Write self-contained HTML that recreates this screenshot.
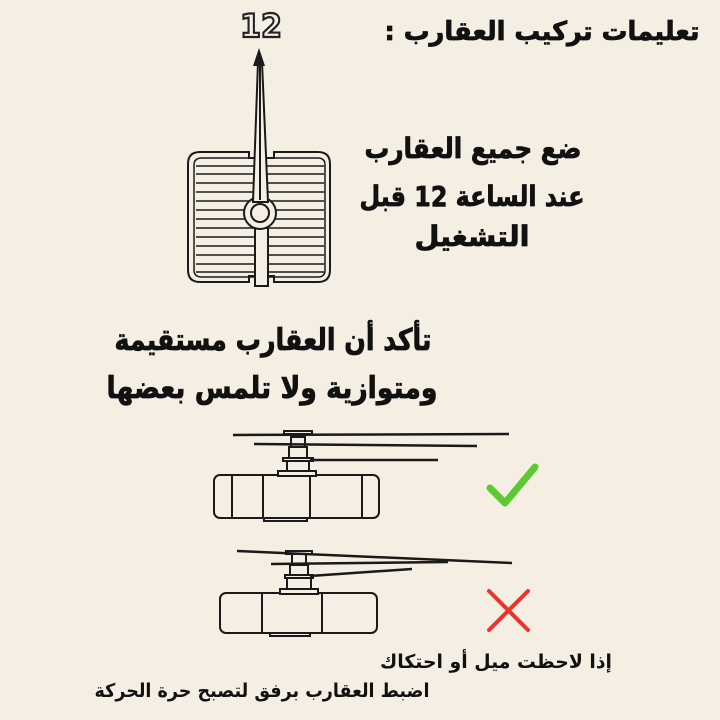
<!DOCTYPE html>
<html><head><meta charset="utf-8"><style>
html,body{margin:0;padding:0;background:#f5efe3;}
svg{display:block}
text{font-family:"DejaVu Sans",sans-serif;font-weight:bold;fill:#111;}
.h{stroke:#111;stroke-width:0.8;}
</style></head><body>
<svg width="720" height="720" viewBox="0 0 720 720" xmlns="http://www.w3.org/2000/svg">
<rect width="720" height="720" fill="#f5efe3"/>
<!-- titles -->
<text class="h" x="542" y="40" font-size="26" text-anchor="middle" textLength="315" lengthAdjust="spacingAndGlyphs" direction="rtl">تعليمات تركيب العقارب :</text>
<text class="h" x="473" y="158" font-size="28" text-anchor="middle" textLength="217" lengthAdjust="spacingAndGlyphs" direction="rtl">ضع جميع العقارب</text>
<text class="h" x="472" y="206" font-size="28" text-anchor="middle" textLength="225" lengthAdjust="spacingAndGlyphs" direction="rtl">عند الساعة 12 قبل</text>
<text class="h" x="472" y="246" font-size="28" text-anchor="middle" textLength="115" lengthAdjust="spacingAndGlyphs" direction="rtl">التشغيل</text>
<text class="h" x="273" y="350" font-size="30" text-anchor="middle" textLength="317" lengthAdjust="spacingAndGlyphs" direction="rtl">تأكد أن العقارب مستقيمة</text>
<text class="h" x="272" y="398" font-size="30" text-anchor="middle" textLength="331" lengthAdjust="spacingAndGlyphs" direction="rtl">ومتوازية ولا تلمس بعضها</text>
<text x="496" y="668" font-size="19" text-anchor="middle" textLength="232" lengthAdjust="spacingAndGlyphs" direction="rtl">إذا لاحظت ميل أو احتكاك</text>
<text x="262" y="697" font-size="19" text-anchor="middle" textLength="335" lengthAdjust="spacingAndGlyphs" direction="rtl">اضبط العقارب برفق لتصبح حرة الحركة</text>

<!-- 12 outline -->
<text x="261" y="37" font-size="32" text-anchor="middle" textLength="42" lengthAdjust="spacingAndGlyphs" style="fill:#f5efe3;stroke:#222;stroke-width:2.2">12</text>

<!-- clock top view -->
<g fill="none" stroke="#1a1a1a" stroke-width="2">
<path d="M200 152 H249 V158 H274 V152 H318 Q330 152 330 164 V270 Q330 282 318 282 H274 V276 H249 V282 H200 Q188 282 188 270 V164 Q188 152 200 152 Z"/>
<path d="M202 158 H318 Q325 158 325 165 V270 Q325 277 318 277 H202 Q194 277 194 270 V165 Q194 158 202 158 Z" stroke-width="1.5"/>
</g>
<g stroke="#1a1a1a" stroke-width="1.5">
<line x1="196" y1="166" x2="324" y2="166"/><line x1="196" y1="174" x2="324" y2="174"/>
<line x1="196" y1="183" x2="324" y2="183"/><line x1="196" y1="192" x2="324" y2="192"/>
<line x1="196" y1="201" x2="324" y2="201"/><line x1="196" y1="210" x2="324" y2="210"/>
<line x1="196" y1="219" x2="324" y2="219"/><line x1="196" y1="228" x2="324" y2="228"/>
<line x1="196" y1="237" x2="324" y2="237"/><line x1="196" y1="246" x2="324" y2="246"/>
<line x1="196" y1="255" x2="324" y2="255"/><line x1="196" y1="264" x2="324" y2="264"/>
<line x1="196" y1="272" x2="324" y2="272"/>
</g>
<rect x="255" y="228" width="13" height="58" fill="#f5efe3" stroke="#1a1a1a" stroke-width="2"/>
<circle cx="260" cy="213" r="16" fill="#f5efe3" stroke="#1a1a1a" stroke-width="2"/>
<path d="M253 202 L258 62 L262 62 L268 202 Z" fill="#f5efe3" stroke="#1a1a1a" stroke-width="2"/>
<path d="M253 66 L259 48 L265 66 Z" fill="#1a1a1a"/>
<line x1="260" y1="60" x2="260" y2="200" stroke="#1a1a1a" stroke-width="2"/>
<circle cx="260" cy="213" r="9" fill="#f5efe3" stroke="#1a1a1a" stroke-width="2"/>

<!-- side view 1 -->
<g fill="#f5efe3" stroke="#1a1a1a" stroke-width="2">
<rect x="264" y="515" width="43" height="6"/>
<rect x="214" y="475" width="165" height="43" rx="6"/>
<line x1="232" y1="475" x2="232" y2="518"/><line x1="263" y1="475" x2="263" y2="518"/>
<line x1="310" y1="475" x2="310" y2="518"/><line x1="362" y1="475" x2="362" y2="518"/>
<rect x="278" y="471" width="38" height="5"/>
<rect x="287" y="460" width="22" height="11"/>
<rect x="283" y="458" width="30" height="3"/>
<rect x="289" y="447" width="18" height="11"/>
<rect x="291" y="437" width="14" height="10"/>
<rect x="284" y="431" width="28" height="3"/>
</g>
<g stroke="#1a1a1a" stroke-width="2.5">
<line x1="233" y1="435" x2="509" y2="434"/>
<line x1="254" y1="444" x2="477" y2="446"/>
<line x1="310" y1="460" x2="438" y2="460"/>
</g>
<path d="M490 488 L505 503 L535 467" fill="none" stroke="#5cc832" stroke-width="7" stroke-linecap="round" stroke-linejoin="round"/>

<!-- side view 2 -->
<g fill="#f5efe3" stroke="#1a1a1a" stroke-width="2">
<rect x="270" y="630" width="40" height="6"/>
<rect x="220" y="593" width="157" height="40" rx="6"/>
<line x1="262" y1="593" x2="262" y2="633"/><line x1="322" y1="593" x2="322" y2="633"/>
<rect x="280" y="589" width="38" height="5"/>
<rect x="287" y="578" width="24" height="11"/>
<rect x="285" y="575" width="28" height="3"/>
<rect x="290" y="565" width="18" height="10"/>
<rect x="292" y="554" width="14" height="11"/>
<rect x="286" y="551" width="26" height="3"/>
</g>
<g stroke="#1a1a1a" stroke-width="2.5">
<line x1="237" y1="551" x2="512" y2="563"/>
<line x1="271" y1="564" x2="448" y2="562"/>
<line x1="310" y1="576" x2="412" y2="569"/>
</g>
<g stroke="#e8352e" stroke-width="4" stroke-linecap="round">
<line x1="489" y1="591" x2="528" y2="630"/><line x1="528" y1="591" x2="489" y2="630"/>
</g>
</svg>
</body></html>
